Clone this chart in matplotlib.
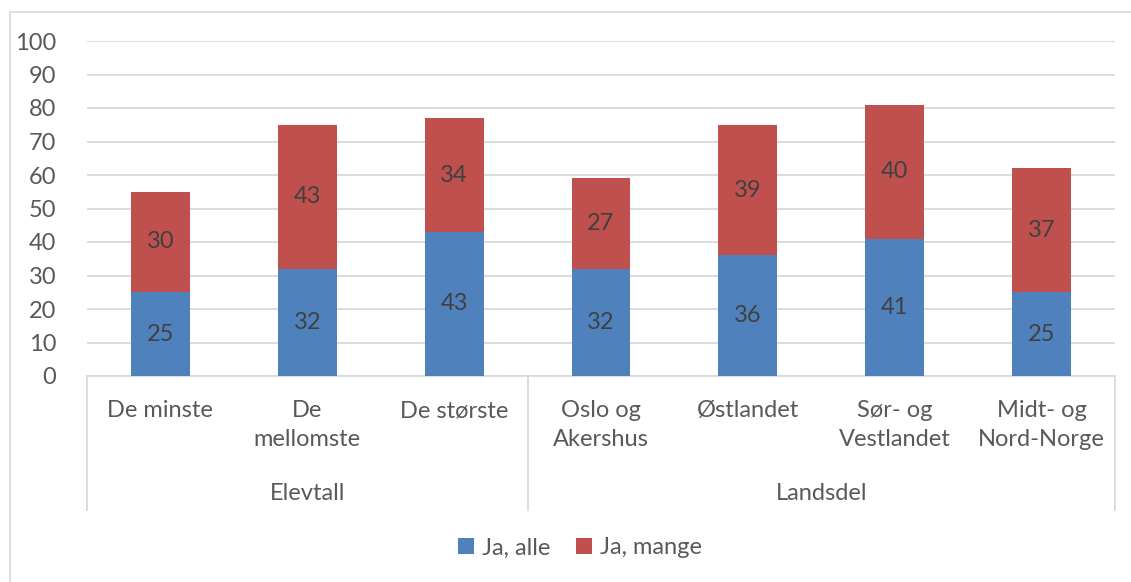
import matplotlib.pyplot as plt
from matplotlib.patches import Rectangle
from matplotlib.lines import Line2D
import numpy as np

categories = ["De minste", "De\nmellomste", "De største",
              "Oslo og\nAkershus", "Østlandet", "Sør- og\nVestlandet", "Midt- og\nNord-Norge"]
groups = ["Elevtall", "Landsdel"]
group_sizes = [3, 4]
ja_alle = [25, 32, 43, 32, 36, 41, 25]
ja_mange = [30, 43, 34, 27, 39, 40, 37]
series_names = ["Ja, alle", "Ja, mange"]

W, H = 1131, 582
BLUE = "#4F81BD"
RED = "#C0504D"
TEXT = "#595959"
GRID = "#D9D9D9"
FS = 17

plt.rcParams['font.family'] = ['Lato', 'DejaVu Sans']

fig = plt.figure(figsize=(W / 100, H / 100), dpi=100)

# chart border (right and bottom edges fall outside the canvas)
fig.patches.append(Rectangle((10 / W, -0.1), 1.2, (582 - 12) / H + 0.1,
                             transform=fig.transFigure, fill=False,
                             edgecolor=GRID, linewidth=1.2))

left, right, top, bottom = 87, 1115, 41, 376
ax = fig.add_axes([left / W, (H - bottom) / H, (right - left) / W, (bottom - top) / H])

x = np.arange(len(categories))
ax.bar(x, ja_alle, width=0.4, color=BLUE, label=series_names[0], zorder=3)
ax.bar(x, ja_mange, width=0.4, bottom=ja_alle, color=RED, label=series_names[1], zorder=3)

for i in range(len(categories)):
    ax.text(x[i], ja_alle[i] / 2, str(ja_alle[i]), ha='center', va='center',
            fontsize=FS, color="#404040", zorder=4)
    ax.text(x[i], ja_alle[i] + ja_mange[i] / 2, str(ja_mange[i]), ha='center', va='center',
            fontsize=FS, color="#404040", zorder=4)

ax.set_xlim(-0.5, len(categories) - 0.5)
ax.set_ylim(0, 100)
ax.set_yticks(range(0, 101, 10))
ax.yaxis.grid(True, color=GRID, linewidth=1.3, zorder=0)
ax.tick_params(axis='y', length=0, labelsize=FS, labelcolor=TEXT, pad=22)
ax.set_xticks([])
for s in ax.spines.values():
    s.set_visible(False)

axh = bottom - top
trans = ax.get_xaxis_transform()

# category axis line and group separators
ax.add_line(Line2D([-0.5, len(categories) - 0.5], [0, 0], transform=trans,
                   color=GRID, linewidth=1.3, clip_on=False, zorder=2))
edges = np.concatenate([[0], np.cumsum(group_sizes)]) - 0.5
for e in edges:
    ax.add_line(Line2D([e, e], [0, -(510 - bottom) / axh], transform=trans,
                       color=GRID, linewidth=1.3, clip_on=False))

for i, lab in enumerate(categories):
    ax.text(x[i], -(400 - bottom) / axh, lab, transform=trans, ha='center', va='top',
            fontsize=FS, color=TEXT, linespacing=1.47)

for g, name in enumerate(groups):
    mid = (edges[g] + edges[g + 1]) / 2
    ax.text(mid, -(493 - bottom) / axh, name, transform=trans, ha='center', va='center',
            fontsize=FS, color=TEXT)

fig.legend(loc='center', bbox_to_anchor=(580 / W, (H - 548) / H), ncol=2, frameon=False,
           fontsize=FS, labelcolor=TEXT, handlelength=0.65, handleheight=0.65,
           handletextpad=0.35, columnspacing=1.1)

fig.savefig("out.png", dpi=100)
